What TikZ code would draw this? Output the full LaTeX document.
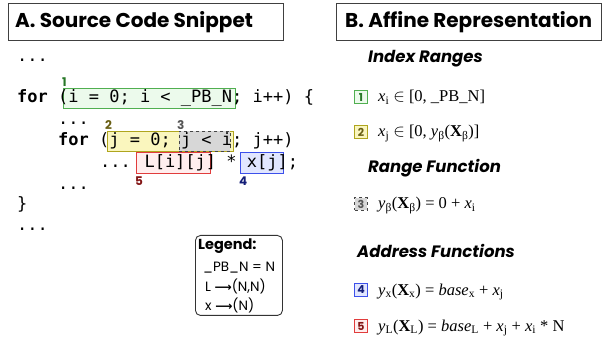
\documentclass[tikz,border=0pt]{standalone}
\usepackage{fontspec}
\setmainfont{Liberation Serif}
\newfontfamily\gothic{Poppins}
\newfontfamily\codefont{DejaVu Sans Mono}
\newfontfamily\dejavu{DejaVu Sans}
\definecolor{gB}{RGB}{80,175,80}
\definecolor{gF}{RGB}{236,250,236}
\definecolor{gT}{RGB}{40,120,40}
\definecolor{yB}{RGB}{175,165,30}
\definecolor{yF}{RGB}{250,246,190}
\definecolor{yT}{RGB}{105,95,20}
\definecolor{kB}{RGB}{70,70,70}
\definecolor{kF}{RGB}{215,215,215}
\definecolor{kT}{RGB}{85,85,85}
\definecolor{rB}{RGB}{225,60,60}
\definecolor{rF}{RGB}{255,238,238}
\definecolor{rT}{RGB}{130,20,20}
\definecolor{bB}{RGB}{60,80,235}
\definecolor{bF}{RGB}{225,230,255}
\definecolor{bT}{RGB}{20,30,120}
\begin{document}
\begin{tikzpicture}[x=1pt,y=-1pt,
  titlebox/.style={draw=black!75, line width=0.9pt, fill=white, inner sep=0, anchor=north west},
  titletext/.style={anchor=base west, inner sep=0, font=\gothic\bfseries\fontsize{20}{24}\selectfont},
  heading/.style={anchor=base west, inner sep=0, font=\gothic\bfseries\itshape\fontsize{16.5}{19}\selectfont},
  code/.style={anchor=base west, inner sep=0, font=\codefont\fontsize{17}{20}\selectfont},
  hl/.style={anchor=north west, inner sep=0, line width=0.9pt},
  lab/.style={anchor=base west, inner sep=0, font=\gothic\bfseries\fontsize{12}{14}\selectfont},
  sq/.style={minimum size=12.5pt, inner sep=0, line width=0.9pt, font=\gothic\bfseries\fontsize{11}{12}\selectfont},
  formula/.style={anchor=base west, inner sep=0, font=\fontsize{16.5}{20}\selectfont},
  legtext/.style={anchor=base west, inner sep=0, font=\gothic\fontsize{13.5}{16}\selectfont}
]
\useasboundingbox (0,0) rectangle (606,342);
% titles
\node[titlebox, minimum width=275pt, minimum height=37pt] (ta) at (8,3) {};
\node[titletext] (tat) at (15,28) {A. Source Code Snippet};
\node[titlebox, minimum width=265pt, minimum height=37pt] (tb) at (336,3) {};
\node[titletext] (tbt) at (345,28) {B. Affine Representation};
% highlight boxes
\node[hl, draw=gB, fill=gF, minimum width=172pt, minimum height=20pt] (b1) at (63,88) {};
\node[hl, draw=yB, fill=yF, minimum width=126pt, minimum height=20pt] (b2) at (107,131) {};
\node[hl, draw=kB, fill=kF, dashed, minimum width=51pt, minimum height=20pt] (b3) at (179,131) {};
\node[hl, draw=rB, fill=rF, minimum width=74pt, minimum height=21pt] (b5) at (136,152) {};
\node[hl, draw=bB, fill=bF, minimum width=43pt, minimum height=21pt] (b4) at (240,152) {};
% labels
\node[lab, text=gT] (l1) at (62,87) {1};
\node[lab, text=yT] (l2) at (105,130) {2};
\node[lab, text=kT] (l3) at (177,130) {3};
\node[lab, text=rT] (l5) at (135,186) {5};
\node[lab, text=bT] (l4) at (239,186) {4};
% code
\node[code] (r0) at (17,62) {...};
\node[code] (r1) at (17,103) {\textbf{for} (i = 0; i < \_PB\_N; i++) \{};
\node[code] (r2) at (58,125) {...};
\node[code] (r3) at (58,146) {\textbf{for} (j = 0; j < i; j++)};
\node[code] (r4) at (100,168) {... L[i][j] * x[j];};
\node[code] (r5) at (58,190) {...};
\node[code] (r6) at (17,210) {\}};
\node[code] (r7) at (17,231) {...};
% legend
\node[draw=black!80, line width=0.9pt, rounded corners=5pt, anchor=north west, minimum width=87pt, minimum height=80pt, inner sep=0] (leg) at (195,235) {};
\node[legtext, font=\gothic\bfseries\fontsize{14.5}{16}\selectfont] (lg0) at (198,250) {Legend:};
\node[legtext] (lg1) at (203,272) {\_PB\_N = N};
\node[legtext] (lg2) at (205,291) {L {\dejavu\bfseries\fontsize{12}{12}\selectfont ⟶}(N,N)};
\node[legtext] (lg3) at (205,310) {x {\dejavu\bfseries\fontsize{12}{12}\selectfont ⟶}(N)};
% right side
\node[heading] (h1) at (368,63) {Index Ranges};
\node[sq, draw=gB, fill=gF, text=gT] (s1) at (361,97) {1};
\node[formula] (f1) at (378,102) {\textit{x}\textsubscript{i} $\in$ [0, \_PB\_N]};
\node[sq, draw=yB, fill=yF, text=yT] (s2) at (361,132) {2};
\node[formula] (f2) at (378,137) {\textit{x}\textsubscript{j} $\in$ [0, \textit{y}\textsubscript{β}(\textbf{X}\textsubscript{β})]};
\node[heading] (h2) at (368,173) {Range Function};
\node[sq, draw=kB, fill=kF, dashed, text=kT] (s3) at (361,204) {3};
\node[formula] (f3) at (378,209) {\textit{y}\textsubscript{β}(\textbf{X}\textsubscript{β}) = 0 + \textit{x}\textsubscript{i}};
\node[heading] (h3) at (357,258) {Address Functions};
\node[sq, draw=bB, fill=bF, text=bT] (s4) at (361,290) {4};
\node[formula] (f4) at (378,295) {\textit{y}\textsubscript{x}(\textbf{X}\textsubscript{x}) = \textit{base}\textsubscript{x} + \textit{x}\textsubscript{j}};
\node[sq, draw=rB, fill=rF, text=rT] (s5) at (361,326) {5};
\node[formula] (f5) at (378,331) {\textit{y}\textsubscript{L}(\textbf{X}\textsubscript{L}) = \textit{base}\textsubscript{L} + \textit{x}\textsubscript{j} + \textit{x}\textsubscript{i} * N};
\end{tikzpicture}
\end{document}
